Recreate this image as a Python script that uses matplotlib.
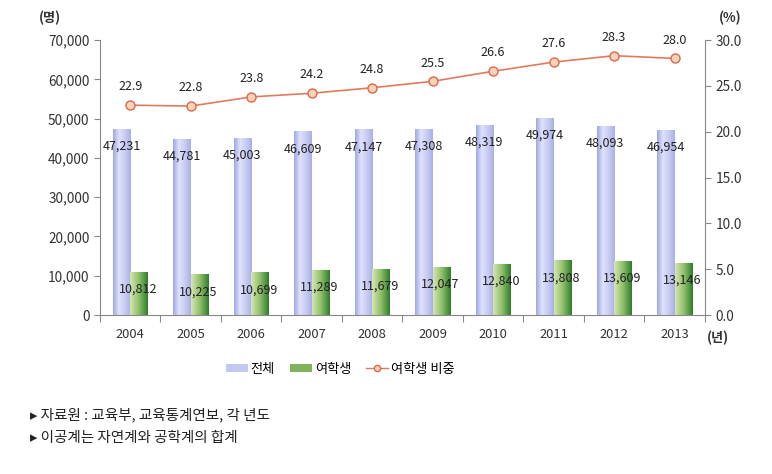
import numpy as np
import matplotlib
matplotlib.use("Agg")
import matplotlib.pyplot as plt
from matplotlib.colors import LinearSegmentedColormap
from matplotlib.patches import Patch
from matplotlib.lines import Line2D

plt.rcParams['font.family'] = ['Noto Sans CJK KR', 'DejaVu Sans']

years = ['2004', '2005', '2006', '2007', '2008', '2009', '2010', '2011', '2012', '2013']
total = [47231, 44781, 45003, 46609, 47147, 47308, 48319, 49974, 48093, 46954]
female = [10812, 10225, 10699, 11289, 11679, 12047, 12840, 13808, 13609, 13146]
ratio = [22.9, 22.8, 23.8, 24.2, 24.8, 25.5, 26.6, 27.6, 28.3, 28.0]

blue_cmap = LinearSegmentedColormap.from_list('b', ['#a0a8e2', '#dfe2fb', '#c8ccf2', '#aab0e6'])
green_cmap = LinearSegmentedColormap.from_list('g', ['#d6e6b0', '#8fbf6a', '#2f7d2c'])
grad = np.linspace(0, 1, 64).reshape(1, -1)

fig = plt.figure(figsize=(7.72, 4.74), dpi=100)
ax = fig.add_axes([0.1295, 0.3354, 0.7835, 0.580])
ax2 = ax.twinx()

x = np.arange(len(years))
w = 0.29
for i in range(len(years)):
    ax.imshow(grad, cmap=blue_cmap, extent=(x[i] - w, x[i], 0, total[i]),
              aspect='auto', zorder=2)
    ax.imshow(grad, cmap=green_cmap, extent=(x[i], x[i] + w, 0, female[i]),
              aspect='auto', zorder=2)
    ax.text(x[i] - w / 2, total[i] - 4300, f'{total[i]:,}', ha='center', va='center',
            fontsize=9, color='#222222', zorder=5)
    ax.text(x[i] + w / 2 - 0.02, female[i] - 4300, f'{female[i]:,}', ha='center', va='center',
            fontsize=9, color='#222222', zorder=5)

ax.set_xlim(-0.5, len(years) - 0.5)
ax.set_ylim(0, 70000)
ax.set_yticks(np.arange(0, 70001, 10000))
ax.set_yticklabels([f'{v:,}' for v in range(0, 70001, 10000)])

ax2.plot(x, ratio, color='#e07a5f', lw=1.2, marker='o', markersize=6.5,
         markerfacecolor='#fbd3b8', markeredgecolor='#d9694a', markeredgewidth=1, zorder=4)
for i in range(len(years)):
    ax2.text(x[i], ratio[i] + 2.0, f'{ratio[i]:.1f}', ha='center', va='center',
             fontsize=9, color='#222222')
ax2.set_ylim(0, 30)
ax2.set_yticks(np.arange(0, 30.1, 5))
ax2.set_yticklabels([f'{v:.1f}' for v in np.arange(0, 30.1, 5)])

for a in (ax, ax2):
    for s in a.spines.values():
        s.set_visible(False)
    a.tick_params(axis='y', labelsize=9.8, colors='#888888', labelcolor='#333333', length=4)
ax.spines['left'].set_visible(True)
ax.spines['left'].set_color('#888888')
ax2.spines['right'].set_visible(True)
ax2.spines['right'].set_color('#888888')
ax.spines['bottom'].set_visible(True)
ax.spines['bottom'].set_color('#888888')

ax.set_xticks(np.arange(-0.5, len(years), 1.0))
ax.set_xticklabels([])
ax.set_xticks(x, minor=True)
ax.set_xticklabels(years, minor=True)
ax.tick_params(axis='x', which='major', length=5, colors='#888888')
ax.tick_params(axis='x', which='minor', length=0, labelsize=9.3, labelcolor='#333333', pad=9)

fig.text(50 / 772, 1 - 18 / 474, '(명)', ha='center', va='center', fontsize=9.5, fontweight='bold', color='#333333')
fig.text(730 / 772, 1 - 18 / 474, '(%)', ha='center', va='center', fontsize=9.5, fontweight='bold', color='#333333')
fig.text(718 / 772, 1 - 338 / 474, '(년)', ha='center', va='center', fontsize=9.5, fontweight='bold', color='#333333')

handles = [Patch(facecolor='#c4c8f0', edgecolor='none'),
           Patch(facecolor='#7fb35e', edgecolor='none'),
           Line2D([], [], color='#e07a5f', lw=1, marker='o', markersize=4.5,
                  markerfacecolor='#fbd3b8', markeredgecolor='#d9694a')]
fig.legend(handles, ['전체', '여학생', '여학생 비중'], loc='center',
           bbox_to_anchor=(340 / 772, 1 - 369 / 474), ncol=3, frameon=False,
           fontsize=9.5, handlelength=1.7, handleheight=0.6, columnspacing=1.1, handletextpad=0.2)

fig.text(30 / 772, 1 - 415 / 474, '▸ 자료원 : 교육부, 교육통계연보, 각 년도', ha='left', va='center',
         fontsize=10.5, color='#222222')
fig.text(30 / 772, 1 - 438 / 474, '▸ 이공계는 자연계와 공학계의 합계', ha='left', va='center',
         fontsize=10.5, color='#222222')

fig.savefig('out.png', dpi=100)
